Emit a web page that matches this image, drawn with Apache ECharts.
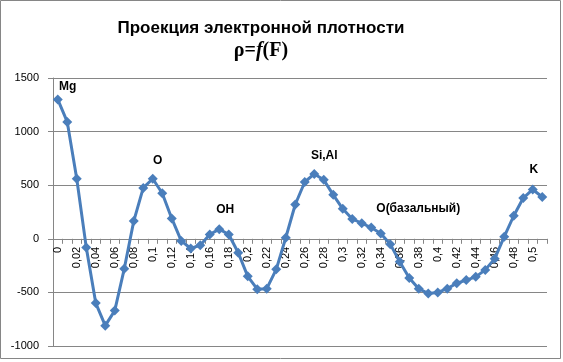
<!DOCTYPE html>
<html><head><meta charset="utf-8">
<script src="https://cdn.jsdelivr.net/npm/echarts@6/dist/echarts.min.js"></script>
<style>html,body{margin:0;padding:0;background:#fff}#c{width:563px;height:362px}</style>
</head><body><div id="c"></div>
<script>
const categories = ["0","0,01","0,02","0,03","0,04","0,05","0,06","0,07","0,08","0,09","0,1","0,11","0,12","0,13","0,14","0,15","0,16","0,17","0,18","0,19","0,2","0,21","0,22","0,23","0,24","0,25","0,26","0,27","0,28","0,29","0,3","0,31","0,32","0,33","0,34","0,35","0,36","0,37","0,38","0,39","0,4","0,41","0,42","0,43","0,44","0,45","0,46","0,47","0,48","0,49","0,5","0,51"];
const values = [1300,1090,560,-80,-600,-810,-670,-280,165,475,560,425,190,-20,-90,-60,40,90,40,-130,-350,-470,-465,-285,10,320,530,605,550,410,280,185,145,105,50,-50,-215,-365,-465,-510,-500,-465,-415,-385,-355,-290,-185,20,215,380,460,390];
const peakLabels = [
  {index:0, text:"Mg", dx:10, dy:3},
  {index:10, text:"O", dx:5, dy:-2},
  {index:17, text:"OH", dx:6, dy:-3},
  {index:27, text:"Si,Al", dx:10, dy:-2},
  {index:33, text:"O(базальный)", dx:47, dy:-3},
  {index:50, text:"K", dx:1, dy:-4}
];
const yTicks = {min:-1000, max:1500, interval:500};

const GRID = {left:53, right:16, top:78, bottom:16};
const H = 362;
const plotH = H - GRID.top - GRID.bottom;
// place the category axis on the value 0 line (ECharts 6 keeps labels at the edge with onZero)
const zeroOffset = -plotH * (0 - yTicks.min) / (yTicks.max - yTicks.min);

const seriesData = values.map((v,i)=>{
  const p = peakLabels.find(l=>l.index===i);
  if(!p) return v;
  return {value:v, label:{show:true, position:'top', formatter:p.text,
    color:'#000', fontWeight:'bold', fontSize:12, fontFamily:'Liberation Sans'}};
});

const chart = echarts.init(document.getElementById('c'), null, {renderer:'canvas'});
chart.setOption({
  animation:false,
  backgroundColor:'#fff',
  title:[
    {text:'Проекция электронной плотности', left:256, top:15, textAlign:'center',
     textStyle:{fontFamily:'Liberation Sans', fontWeight:'bold', fontSize:17, color:'#000'}},
    {text:'{a|ρ=}{b|f}{a|(F)}', left:256, top:36, textAlign:'center',
     textStyle:{rich:{
       a:{fontFamily:'Liberation Serif', fontWeight:'bold', fontSize:20, color:'#000'},
       b:{fontFamily:'Liberation Serif', fontWeight:'bold', fontStyle:'italic', fontSize:20, color:'#000'}}}}
  ],
  graphic:[{type:'rect', shape:{x:0.5,y:0.5,width:560,height:358}, style:{fill:'none', stroke:'#868686', lineWidth:1}, silent:true}],
  grid:Object.assign({containLabel:false, outerBoundsMode:'none'}, GRID),
  xAxis:{type:'category', data:categories, boundaryGap:true, offset:zeroOffset,
    axisLine:{onZero:false, lineStyle:{color:'#868686'}},
    axisTick:{show:true, interval:0, length:5, lineStyle:{color:'#868686'}},
    axisLabel:{interval:1, rotate:90, color:'#000', fontSize:11, fontFamily:'Liberation Sans', margin:8}},
  yAxis:{type:'value', min:yTicks.min, max:yTicks.max, interval:yTicks.interval,
    axisLine:{show:true, lineStyle:{color:'#868686'}},
    axisTick:{show:true, length:5, lineStyle:{color:'#868686'}},
    splitLine:{lineStyle:{color:'#868686'}},
    axisLabel:{color:'#000', fontSize:11, fontFamily:'Liberation Sans', margin:14, formatter:v=>String(v)}},
  series:[{type:'line', data:seriesData, symbol:'diamond', symbolSize:10, showAllSymbol:true,
    z:3,
    labelLayout:(params)=>{
      const p = peakLabels.find(l=>l.index===params.dataIndex);
      return p ? {dx:p.dx, dy:p.dy, hideOverlap:false} : {};
    },
    lineStyle:{color:'#4a7ebb', width:3}, itemStyle:{color:'#4a7ebb'}}]
});
</script></body></html>
